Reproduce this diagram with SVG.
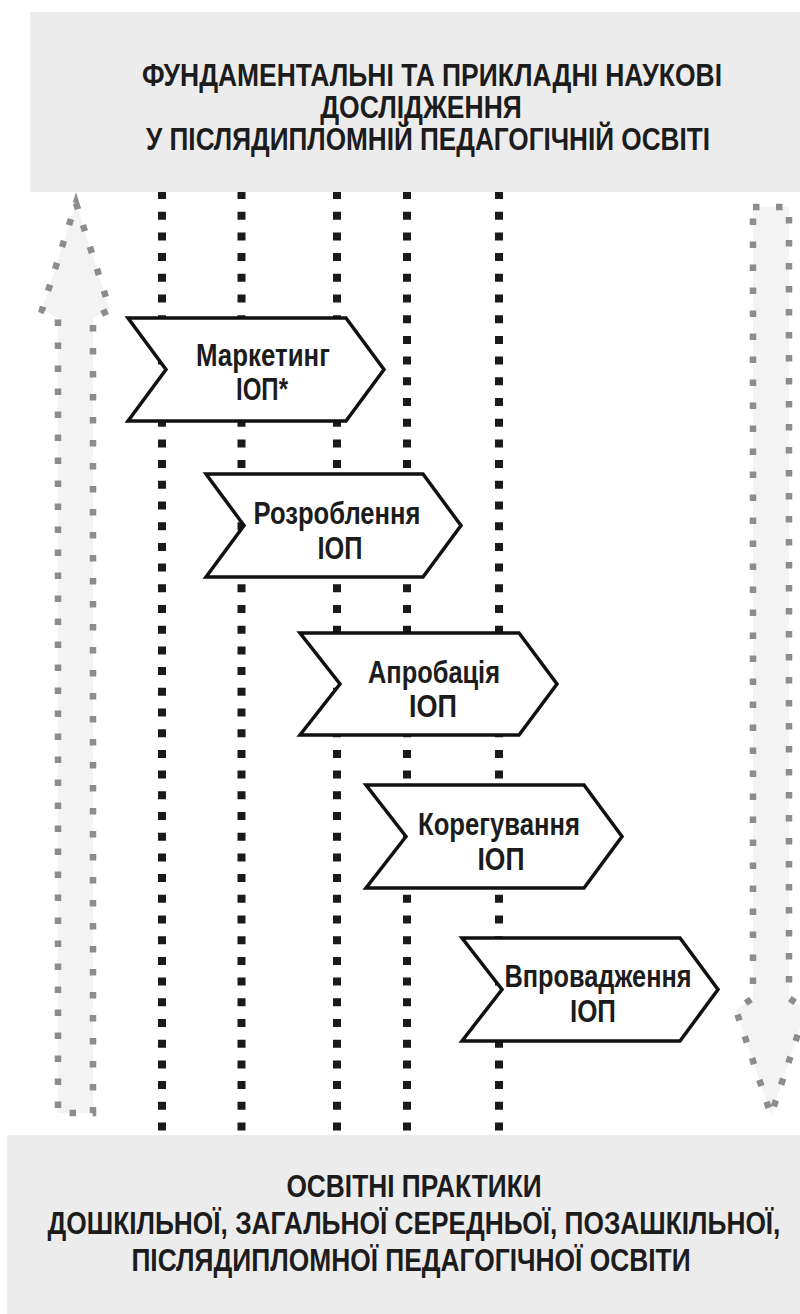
<svg xmlns="http://www.w3.org/2000/svg" width="800" height="1314" viewBox="0 0 800 1314">
<defs>
<style>
.box{fill:#ececec;stroke:none}
.t{font-family:"Liberation Sans",Arial,sans-serif;font-weight:bold;font-size:31px;fill:#1c1c1c;text-anchor:middle}
.vl{stroke:#1a1a1a;stroke-width:8;stroke-dasharray:8 12.7;fill:none}
.big{fill:#f3f3f3;stroke:#8c8c8c;stroke-width:6.5;stroke-dasharray:6.5 16.5;stroke-linejoin:miter}
.chev{fill:#ffffff;stroke:#111;stroke-width:3.5;stroke-linejoin:miter}
</style>
</defs>
<rect width="800" height="1314" fill="#ffffff"/>
<g id="connectors">
<line class="vl" x1="162" y1="191" x2="162" y2="1140"/>
<line class="vl" x1="241.5" y1="191" x2="241.5" y2="1140"/>
<line class="vl" x1="337" y1="191" x2="337" y2="1140"/>
<line class="vl" x1="407" y1="191" x2="407" y2="1140"/>
<line class="vl" x1="499" y1="191" x2="499" y2="1140"/>
<path id="arrow-up" class="big" d="M76,203 L110,310 L93,318 L93,1113 L58,1113 L58,318 L42,310 Z"/>
<path id="arrow-down" class="big" d="M753,207 L789,207 L789,998 L806,1010 L771,1115 L736,1010 L753,998 Z"/>
</g>
<g id="top-box">
<rect class="box" x="30" y="12" width="770" height="180"/>
<text class="t" transform="translate(432,86) scale(0.8,1)" x="0" y="0" textLength="725" lengthAdjust="spacingAndGlyphs">ФУНДАМЕНТАЛЬНІ ТА ПРИКЛАДНІ НАУКОВІ</text>
<text class="t" transform="translate(421,118) scale(0.8,1)" x="0" y="0" textLength="252" lengthAdjust="spacingAndGlyphs">ДОСЛІДЖЕННЯ</text>
<text class="t" transform="translate(428,150) scale(0.8,1)" x="0" y="0" textLength="705" lengthAdjust="spacingAndGlyphs">У ПІСЛЯДИПЛОМНІЙ ПЕДАГОГІЧНІЙ ОСВІТІ</text>
</g>
<g id="bottom-box">
<rect class="box" x="7" y="1135" width="793" height="179"/>
<text class="t" transform="translate(414,1197) scale(0.8,1)" x="0" y="0" textLength="319" lengthAdjust="spacingAndGlyphs">ОСВІТНІ ПРАКТИКИ</text>
<text class="t" transform="translate(414,1234) scale(0.8,1)" x="0" y="0" textLength="916" lengthAdjust="spacingAndGlyphs">ДОШКІЛЬНОЇ, ЗАГАЛЬНОЇ СЕРЕДНЬОЇ, ПОЗАШКІЛЬНОЇ,</text>
<text class="t" transform="translate(411,1271) scale(0.8,1)" x="0" y="0" textLength="699" lengthAdjust="spacingAndGlyphs">ПІСЛЯДИПЛОМНОЇ ПЕДАГОГІЧНОЇ ОСВІТИ</text>
</g>
<g id="node-marketing">
<path class="chev" d="M128,318 L346,318 L384,369.5 L346,421 L128,421 L166,369.5 Z"/>
<text class="t" x="263" y="366" textLength="134" lengthAdjust="spacingAndGlyphs">Маркетинг</text>
<text class="t" x="262" y="400" textLength="52" lengthAdjust="spacingAndGlyphs">ІОП*</text>
</g>
<g id="node-rozroblennia">
<path class="chev" d="M206,474 L423,474 L461,525.5 L423,577 L206,577 L244,525.5 Z"/>
<text class="t" x="337" y="524" textLength="167" lengthAdjust="spacingAndGlyphs">Розроблення</text>
<text class="t" x="340" y="559" textLength="45" lengthAdjust="spacingAndGlyphs">ІОП</text>
</g>
<g id="node-aprobatsiia">
<path class="chev" d="M300,633 L519,633 L557,684 L519,735 L300,735 L340,684 Z"/>
<text class="t" x="434" y="683" textLength="132" lengthAdjust="spacingAndGlyphs">Апробація</text>
<text class="t" x="433" y="717" textLength="48" lengthAdjust="spacingAndGlyphs">ІОП</text>
</g>
<g id="node-korehuvannia">
<path class="chev" d="M366,785 L584,785 L622,836.5 L584,888 L366,888 L406,836.5 Z"/>
<text class="t" x="499" y="835" textLength="162" lengthAdjust="spacingAndGlyphs">Корегування</text>
<text class="t" x="501" y="870" textLength="47" lengthAdjust="spacingAndGlyphs">ІОП</text>
</g>
<g id="node-vprovadzhennia">
<path class="chev" d="M462,938 L680,938 L718,989.5 L680,1041 L462,1041 L502,989.5 Z"/>
<text class="t" transform="translate(598,987) scale(0.85,1)" x="0" y="0" textLength="220" lengthAdjust="spacingAndGlyphs">Впровадження</text>
<text class="t" x="593" y="1022" textLength="46" lengthAdjust="spacingAndGlyphs">ІОП</text>
</g>
</svg>
